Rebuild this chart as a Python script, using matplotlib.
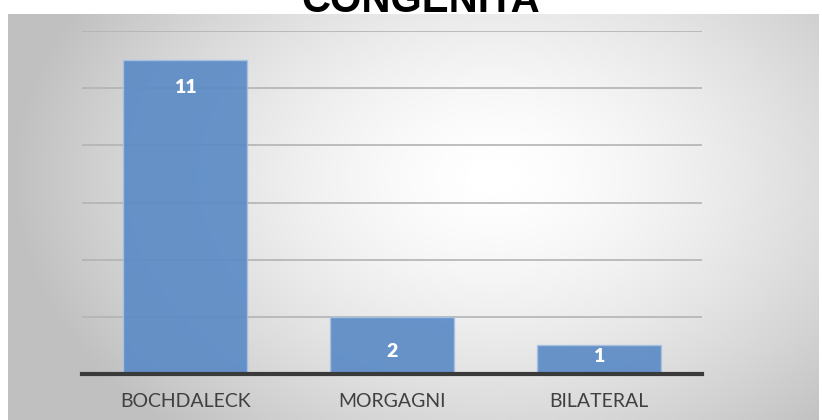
import numpy as np
import matplotlib.pyplot as plt

categories = ['BOCHDALECK', 'MORGAGNI', 'BILATERAL']
counts = [11, 2, 1]
title = 'CONGENITA'

W, H = 822, 420
fig = plt.figure(figsize=(W / 100, H / 100), dpi=100)

# gray radial-gradient panel behind the chart
bg = fig.add_axes([8 / W, 0, (W - 12) / W, (H - 14) / H])
gx, gy = np.meshgrid(np.linspace(0, 1, 400), np.linspace(0, 1, 200))
r = np.sqrt(((gx - 0.6) / 0.6) ** 2 + ((gy - 0.4) / 0.85) ** 2)
shade = 1 - 0.25 * np.clip(r, 0, 1) ** 1.5
bg.imshow(shade, cmap='gray', vmin=0, vmax=1, aspect='auto',
          extent=[0, 1, 1, 0], interpolation='bicubic')
bg.set_axis_off()

fig.text(421 / W, 1 - 12 / H, title, ha='center', va='baseline',
         fontsize=29, fontweight='bold', family='Liberation Sans')

ax = fig.add_axes([82 / W, 1 - 374 / H, 620 / W, 343 / H])
ax.patch.set_alpha(0)
x = np.arange(len(categories))
bars = ax.bar(x, counts, width=0.6, color='#5b8bc6', alpha=0.92,
              edgecolor='#a9c2e3', linewidth=1, zorder=2)

ax.set_xlim(-0.5, len(categories) - 0.5)
ax.set_ylim(0, 12)
ax.set_yticks(range(2, 13, 2))
ax.yaxis.grid(True, color='#b3b3b3', linewidth=1.2, zorder=1)
ax.tick_params(left=False, bottom=False, labelleft=False)
ax.set_xticks(x)
ax.set_xticklabels(categories, fontsize=14, color='#404040', family='Lato')
ax.tick_params(axis='x', pad=10)
for s in ['top', 'right', 'left']:
    ax.spines[s].set_visible(False)
ax.spines['bottom'].set_color('#3a3a3a')
ax.spines['bottom'].set_linewidth(3)
ax.spines['bottom'].set_zorder(3)

# value labels inside bar tops (pixel offset below top)
label_offsets = [-28, -35, -11]
for b, v, off in zip(bars, counts, label_offsets):
    ax.annotate(str(v), (b.get_x() + b.get_width() / 2, v),
                xytext=(0, off), textcoords='offset pixels',
                ha='center', va='center', color='white',
                fontsize=14, fontweight='heavy', family='Lato', zorder=4)

fig.savefig('out.png', dpi=100)
